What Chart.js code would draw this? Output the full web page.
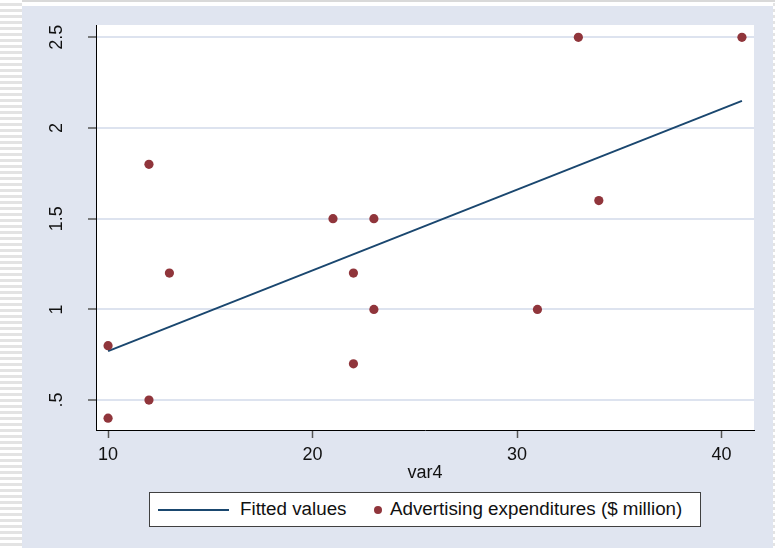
<!DOCTYPE html>
<html>
<head>
<meta charset="utf-8">
<title>var4 scatter</title>
<script src="https://cdn.jsdelivr.net/npm/chart.js@4/dist/chart.umd.min.js"></script>
<style>
    html, body { margin: 0; padding: 0; }
    body { width: 775px; height: 548px; position: relative; overflow: hidden; background: #ffffff;
           font-family: "Liberation Sans", Arial, sans-serif; }
    .stripes-left { position: absolute; left: 0; top: 0; width: 22px; height: 548px;
           background: repeating-linear-gradient(to bottom, #ffffff 0px, #ffffff 3px, #e3e3e3 3px, #e3e3e3 6px); }
    .stripes-right { position: absolute; left: 773px; top: 0; width: 2px; height: 548px;
           background: repeating-linear-gradient(to bottom, #ffffff 0px, #ffffff 3px, #e3e3e3 3px, #e3e3e3 6px); }
    .top-bar { position: absolute; left: 22px; top: 0; width: 753px; height: 2px; background: #d9d9d9; }
    .bg { position: absolute; left: 22px; top: 6px; width: 751px; height: 542px; background: #e0e5f0; }
    #chart { position: absolute; left: 0; top: 0; }
    .legend { position: absolute; left: 149px; top: 492px; width: 550px; height: 33px;
           border: 1px solid #404040; background: #ffffff; font-size: 18.8px; color: #111; }
    .legend .line { position: absolute; left: 8px; top: 16px; width: 71px; height: 2px; background: #1a476f; }
    .legend .lbl1 { position: absolute; left: 90px; top: 5px; }
    .legend .dot { position: absolute; left: 224px; top: 13px; width: 8px; height: 8px; border-radius: 50%; background: #90353b; }
    .legend .lbl2 { position: absolute; left: 240px; top: 5px; }
</style>
</head>
<body>
<div class="stripes-left"></div>
<div class="stripes-right"></div>
<div class="top-bar"></div>
<div class="bg"></div>
<canvas id="chart" width="775" height="548"></canvas>
<div class="legend">
    <div class="line"></div>
    <div class="lbl1">Fitted values</div>
    <div class="dot"></div>
    <div class="lbl2">Advertising expenditures ($ million)</div>
</div>
<script>
// Adatok
const var4 = [10, 10, 12, 12, 13, 21, 22, 22, 23, 23, 31, 33, 34, 41];
const advertising = [0.4, 0.8, 0.5, 1.8, 1.2, 1.5, 1.2, 0.7, 1.5, 1.0, 1.0, 2.5, 1.6, 2.5];
const fittedX = [10, 41];
const fittedY = [0.77, 2.15];

const xTicks = [10, 20, 30, 40];
const yTicks = [0.5, 1, 1.5, 2, 2.5];
const yTickLabels = ['.5', '1', '1.5', '2', '2.5'];

const xMin = 9.41, xMax = 41.59;
const yMin = 0.335, yMax = 2.568;

const betu = { family: '"Liberation Sans", Arial, sans-serif', size: 18 };
const szovegSzin = '#111111';

// Fehér rajzterület
const feherHatter = {
    id: 'feherHatter',
    beforeDraw(chart) {
        const { ctx, chartArea } = chart;
        ctx.save();
        ctx.fillStyle = '#ffffff';
        ctx.fillRect(chartArea.left, chartArea.top, chartArea.right - chartArea.left, chartArea.bottom - chartArea.top);
        ctx.restore();
    }
};

// Elforgatott y tengely feliratok (Stata stílus)
const yFeliratok = {
    id: 'yFeliratok',
    afterDraw(chart) {
        const { ctx } = chart;
        const y = chart.scales.y;
        ctx.save();
        ctx.font = betu.size + 'px ' + betu.family;
        ctx.fillStyle = szovegSzin;
        ctx.textAlign = 'center';
        ctx.textBaseline = 'alphabetic';
        yTicks.forEach((v, i) => {
            ctx.save();
            ctx.translate(62, y.getPixelForValue(v));
            ctx.rotate(-Math.PI / 2);
            ctx.fillText(yTickLabels[i], 0, 0);
            ctx.restore();
        });
        ctx.restore();
    }
};

new Chart(document.getElementById('chart').getContext('2d'), {
    data: {
        datasets: [
            {
                type: 'line',
                label: 'Fitted values',
                data: fittedX.map((x, i) => ({ x: x, y: fittedY[i] })),
                borderColor: '#1a476f',
                borderWidth: 2,
                pointRadius: 0,
                fill: false,
                order: 1
            },
            {
                type: 'scatter',
                label: 'Advertising expenditures ($ million)',
                data: var4.map((x, i) => ({ x: x, y: advertising[i] })),
                backgroundColor: '#90353b',
                borderWidth: 0,
                pointRadius: 4.6,
                order: 0
            }
        ]
    },
    options: {
        responsive: false,
        animation: false,
        events: [],
        layout: { padding: { left: 56, top: 25, right: 21, bottom: 58 } },
        plugins: { legend: { display: false }, tooltip: { enabled: false } },
        scales: {
            x: {
                type: 'linear',
                min: xMin,
                max: xMax,
                afterBuildTicks: s => { s.ticks = xTicks.map(v => ({ value: v })); },
                afterFit: s => { s.height = 60; },
                grid: { drawOnChartArea: false, drawTicks: true, tickLength: 8, tickColor: '#555555', tickWidth: 1.5 },
                border: { display: true, color: '#000000', width: 1 },
                ticks: { font: betu, color: szovegSzin, padding: 6, maxRotation: 0, autoSkip: false },
                title: { display: true, text: 'var4', font: betu, color: szovegSzin, padding: { top: 0, bottom: 6 } }
            },
            y: {
                type: 'linear',
                min: yMin,
                max: yMax,
                afterBuildTicks: s => { s.ticks = yTicks.map(v => ({ value: v })); },
                afterFit: s => { s.width = 40; },
                grid: { color: '#dde3ef', lineWidth: 2, drawTicks: true, tickLength: 8, tickColor: '#555555', tickWidth: 1.5 },
                border: { display: true, color: '#000000', width: 1 },
                ticks: { display: false }
            }
        }
    },
    plugins: [feherHatter, yFeliratok]
});
</script>
</body>
</html>
